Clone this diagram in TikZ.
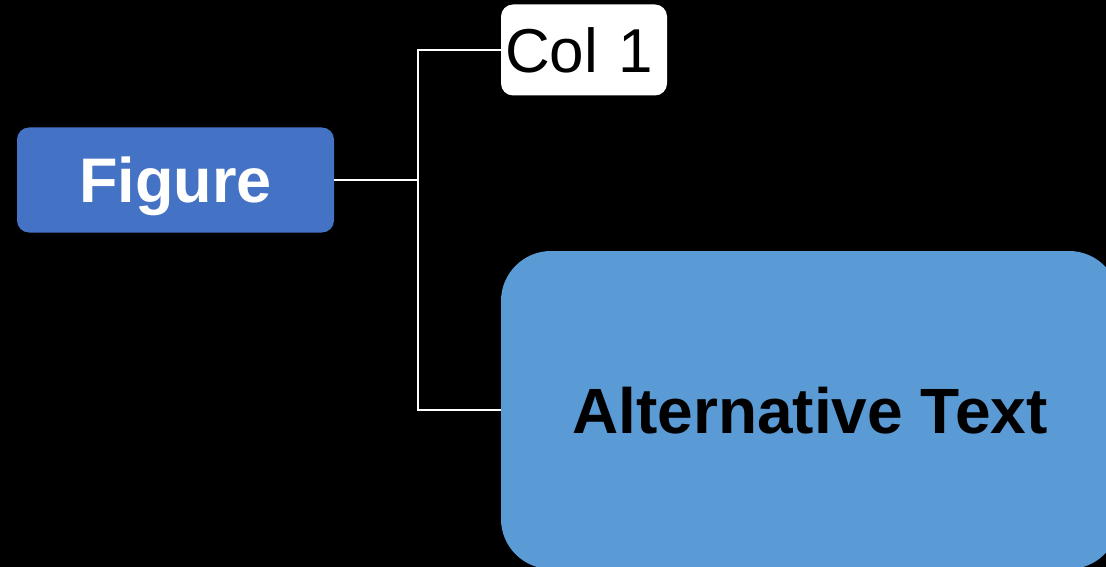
\documentclass[tikz,border=0pt]{standalone}
\usepackage{fontspec}
\setmainfont{Liberation Sans}
\definecolor{figblue}{HTML}{4472C4}
\definecolor{altblue}{HTML}{5B9BD5}
\begin{document}
\begin{tikzpicture}[x=1pt,y=-1pt,
  box/.style={rectangle, rounded corners=#1, inner sep=0pt, text depth=0pt},
  link/.style={draw=white, line width=1.5pt}]
  % canvas
  \fill[black] (0,0) rectangle (1106,567);
  \useasboundingbox (0,0) rectangle (1106,567);
  \clip (0,0) rectangle (1106,567);

  % boxes
  \node[box=12pt, fill=figblue, text=white, minimum width=317pt, minimum height=105pt,
        text height=45pt, font=\fontsize{63}{63}\selectfont\bfseries] (fig) at (175.5,180) {Figure};
  \node[box=12pt, fill=white, text=black, minimum height=91pt, text height=46pt,
        text width=158pt, inner xsep=4pt, align=left,
        font=\fontsize{62}{62}\selectfont] (col) at (584,50) {Col 1};
  \node[box=50pt, fill=altblue, text=black, minimum width=618pt, minimum height=318pt,
        text height=46pt, font=\fontsize{64}{64}\selectfont\bfseries] (alt) at (810,410) {Alternative Text};

  % connectors
  \coordinate (j) at (418,180);
  \draw[link] (fig.east) -- (j);
  \draw[link] (j) |- (col.west);
  \draw[link] (j) |- (alt.west);
\end{tikzpicture}
\end{document}
